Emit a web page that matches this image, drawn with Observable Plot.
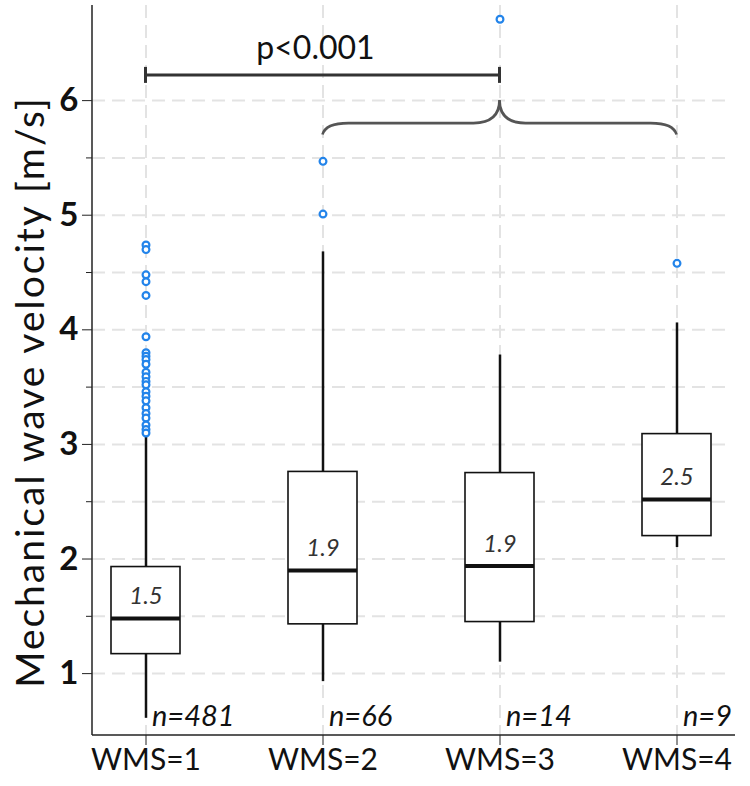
<!DOCTYPE html>
<html>
<head>
<meta charset="utf-8">
<script src="https://cdn.jsdelivr.net/npm/d3@7"></script>
<script src="https://cdn.jsdelivr.net/npm/@observablehq/plot@0.6"></script>
<style>
  body { margin: 0; background: #fff; }
  #chart svg { display: block; }
</style>
</head>
<body>
<div id="chart"></div>
<script>
// WMS groups and their box-plot summaries (mechanical wave velocity, m/s)
const groups = ["WMS=1", "WMS=2", "WMS=3", "WMS=4"];
const counts = [481, 66, 14, 9];
const q1 = [1.17, 1.43, 1.45, 2.20];
const medians = [1.48, 1.90, 1.94, 2.52];
const q3 = [1.93, 2.76, 2.75, 3.09];
const whiskerLow = [0.61, 0.93, 1.10, 2.10];
const whiskerHigh = [3.08, 4.68, 3.78, 4.06];
const outlierValues = [
  [4.74, 4.70, 4.48, 4.42, 4.30, 3.94, 3.80, 3.77, 3.74, 3.70, 3.63, 3.59,
   3.55, 3.52, 3.46, 3.42, 3.38, 3.32, 3.27, 3.23, 3.17, 3.13, 3.10],
  [5.47, 5.01],
  [6.71],
  [4.58]
];

// Axis ticks
const majorTicks = [1, 2, 3, 4, 5, 6];
const minorTicks = [1.5, 2.5, 3.5, 4.5, 5.5];
const gridValues = [1, 1.5, 2, 2.5, 3, 3.5, 4, 4.5, 5, 5.5, 6];
const yTitle = "Mechanical wave velocity [m/s]";

// Significance annotation: WMS=1 vs the group WMS=2..4
const bracketFrom = "WMS=1";
const bracketTo = "WMS=3";
const bracketLevel = 6.22;
const pLabel = "p<0.001";
const braceFrom = "WMS=2";
const braceTo = "WMS=4";
const braceTip = "WMS=3";
const braceTipLevel = 6.0;
const braceArmLevel = 5.8;
const braceEndLevel = 5.7;

const boxes = groups.map((g, i) => ({
  group: g, n: counts[i], q1: q1[i], median: medians[i], q3: q3[i],
  lo: whiskerLow[i], hi: whiskerHigh[i]
}));
const outliers = groups.flatMap((g, i) => outlierValues[i].map(v => ({group: g, value: v})));

const font = "Lato, 'Open Sans', 'DejaVu Sans', sans-serif";
const svgNS = "http://www.w3.org/2000/svg";

function el(name, attrs) {
  const e = document.createElementNS(svgNS, name);
  for (const k in attrs) e.setAttribute(k, attrs[k]);
  return e;
}

// Axis lines, y title, comparison bracket with p-value and the curly brace
function annotations(index, scales, values, dimensions) {
  const sx = scales.x, sy = scales.y;
  const bw = typeof sx.bandwidth === "function" ? sx.bandwidth() : 0;
  const cx = g => sx(g) + bw / 2;
  const {width, height, marginLeft, marginRight, marginTop, marginBottom} = dimensions;
  const g = el("g", {});
  const left = marginLeft, bottom = height - marginBottom;
  g.appendChild(el("line", {x1: left, x2: left, y1: marginTop, y2: bottom, stroke: "#222", "stroke-width": 1.5}));
  g.appendChild(el("line", {x1: left, x2: width - marginRight + 4, y1: bottom, y2: bottom, stroke: "#222", "stroke-width": 1.5}));

  const title = el("text", {
    transform: `translate(${left - 62},${(marginTop + bottom) / 2 + 22}) rotate(-90)`,
    "text-anchor": "middle", dy: "0.35em", "font-family": font, "font-size": 39,
    "letter-spacing": 2, fill: "#111"
  });
  title.textContent = yTitle;
  g.appendChild(title);

  const bx1 = cx(bracketFrom), bx2 = cx(bracketTo), by = sy(bracketLevel);
  const bs = {stroke: "#333", "stroke-width": 3, fill: "none"};
  g.appendChild(el("line", {x1: bx1, x2: bx2, y1: by, y2: by, ...bs}));
  g.appendChild(el("line", {x1: bx1, x2: bx1, y1: by - 8, y2: by + 8, ...bs}));
  g.appendChild(el("line", {x1: bx2, x2: bx2, y1: by - 8, y2: by + 8, ...bs}));
  const t = el("text", {x: (bx1 + bx2) / 2 - 7, y: by - 16, "text-anchor": "middle",
    "font-family": font, "font-size": 32, fill: "#111"});
  t.textContent = pLabel;
  g.appendChild(t);

  const xl = cx(braceFrom), xr = cx(braceTo), xt = cx(braceTip);
  const ya = sy(braceArmLevel), ye = sy(braceEndLevel), yt = sy(braceTipLevel);
  const r = 26;
  const d = `M${xl},${ye} Q${xl + 3},${ya} ${xl + r},${ya} L${xt - r},${ya} Q${xt},${ya} ${xt},${yt}` +
            ` Q${xt},${ya} ${xt + r},${ya} L${xr - r},${ya} Q${xr - 3},${ya} ${xr},${ye}`;
  g.appendChild(el("path", {d, stroke: "#555", "stroke-width": 2.7, fill: "none"}));
  return g;
}

const chart = Plot.plot({
  width: 750,
  height: 786,
  marginLeft: 92,
  marginRight: 19,
  marginTop: 5,
  marginBottom: 51,
  style: {fontFamily: font, color: "#111", background: "#fff"},
  x: {type: "band", domain: groups, paddingInner: 0.61, paddingOuter: 0.104, label: null},
  y: {domain: [0.46, 6.83], label: null},
  marks: [
    Plot.ruleY(gridValues, {stroke: "#e3e3e3", strokeWidth: 2, strokeDasharray: "13,7"}),
    Plot.ruleX(groups, {x: d => d, stroke: "#e3e3e3", strokeWidth: 2, strokeDasharray: "13,7"}),
    Plot.axisY(majorTicks, {tickSize: 10, tickPadding: 4, fontSize: 33, fontWeight: "bold",
      tickFormat: d => String(d), stroke: "#222", label: null}),
    Plot.axisY(minorTicks, {tickSize: 6, text: null, stroke: "#222", label: null}),
    Plot.axisX(groups, {tickSize: 10, tickPadding: 3, fontSize: 30, stroke: "#222", label: null}),
    Plot.ruleX(boxes, {x: "group", y1: "lo", y2: "q1", stroke: "#111", strokeWidth: 2.5}),
    Plot.ruleX(boxes, {x: "group", y1: "q3", y2: "hi", stroke: "#111", strokeWidth: 2.5}),
    Plot.barY(boxes, {x: "group", y1: "q1", y2: "q3", fill: "white", stroke: "#111", strokeWidth: 1.6}),
    Plot.tickY(boxes, {x: "group", y: "median", stroke: "#111", strokeWidth: 4}),
    Plot.text(boxes, {x: "group", y: "median", text: d => d3.format(".1f")(d.median), dy: -22,
      fontSize: 24, fontStyle: "italic", fill: "#333"}),
    Plot.text(boxes, {x: "group", y: 0.62, text: d => `n=${d.n}`, textAnchor: "start", dx: 6,
      fontSize: 29, fontStyle: "italic", fill: "#111"}),
    Plot.dot(outliers, {x: "group", y: "value", r: 3.4, stroke: "#2384ea", strokeWidth: 2.2, fill: "white"}),
    annotations
  ]
});

document.getElementById("chart").appendChild(chart);
</script>
</body>
</html>
